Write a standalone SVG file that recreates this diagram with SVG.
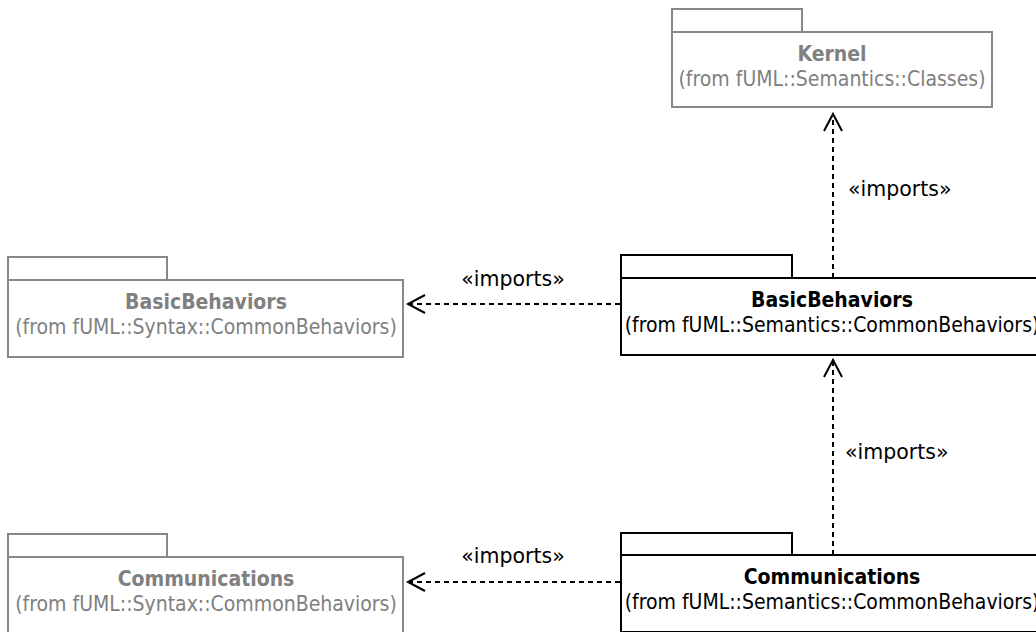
<svg xmlns="http://www.w3.org/2000/svg" width="1036" height="632" viewBox="0 0 1036 632">
<style>
text{font-family:"DejaVu Sans Condensed","DejaVu Sans","Liberation Sans",sans-serif;font-size:21px;text-anchor:middle}
.b{font-weight:bold}
.pk{fill:#fff;stroke:#000;stroke-width:2}
.gp{fill:#fff;stroke:#888;stroke-width:2}
.gt{fill:#808080}
.bt{fill:#000}
.dep{fill:none;stroke:#000;stroke-width:2;stroke-dasharray:5 4}
.ah{fill:none;stroke:#000;stroke-width:2}
.lb{font-family:"DejaVu Sans","Liberation Sans",sans-serif;font-size:20.5px}
.lbl{text-anchor:start}
</style>
<rect width="1036" height="632" fill="#fff"/>
<g id="connectors">
<line class="dep" x1="833" y1="278" x2="833" y2="114"/>
<polyline class="ah" points="824,131 833,114 842,131"/>
<text class="lb lbl" x="848" y="196">«imports»</text>
<line class="dep" x1="620" y1="304" x2="408" y2="304"/>
<polyline class="ah" points="425,295 408,304 425,313"/>
<text class="lb" x="513" y="286">«imports»</text>
<line class="dep" x1="833" y1="555" x2="833" y2="360"/>
<polyline class="ah" points="824,377 833,360 842,377"/>
<text class="lb lbl" x="845" y="459">«imports»</text>
<line class="dep" x1="620" y1="582" x2="408" y2="582"/>
<polyline class="ah" points="425,573 408,582 425,591"/>
<text class="lb" x="513" y="563">«imports»</text>
</g>
<g id="kernel">
<rect class="gp" x="672" y="9" width="130" height="23"/>
<rect class="gp" x="672" y="32" width="320" height="75"/>
<text class="b gt" x="832" y="61">Kernel</text>
<text class="gt" x="832" y="86">(from fUML::Semantics::Classes)</text>
</g>
<g id="bb-semantics">
<rect class="pk" x="621" y="255" width="171" height="23"/>
<rect class="pk" x="621" y="278" width="424" height="77"/>
<text class="b bt" x="832" y="307">BasicBehaviors</text>
<text class="bt" x="832" y="332">(from fUML::Semantics::CommonBehaviors)</text>
</g>
<g id="bb-syntax">
<rect class="gp" x="8" y="257" width="159" height="23"/>
<rect class="gp" x="8" y="280" width="395" height="77"/>
<text class="b gt" x="206" y="309">BasicBehaviors</text>
<text class="gt" x="206" y="334">(from fUML::Syntax::CommonBehaviors)</text>
</g>
<g id="comm-semantics">
<rect class="pk" x="621" y="533" width="171" height="22"/>
<rect class="pk" x="621" y="555" width="424" height="77"/>
<text class="b bt" x="832" y="584">Communications</text>
<text class="bt" x="832" y="609">(from fUML::Semantics::CommonBehaviors)</text>
</g>
<g id="comm-syntax">
<rect class="gp" x="8" y="534" width="159" height="23"/>
<rect class="gp" x="8" y="557" width="395" height="77"/>
<text class="b gt" x="206" y="586">Communications</text>
<text class="gt" x="206" y="611">(from fUML::Syntax::CommonBehaviors)</text>
</g>
</svg>
